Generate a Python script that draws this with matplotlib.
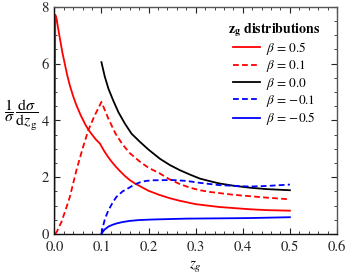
import matplotlib
matplotlib.use("Agg")
import matplotlib.pyplot as plt
from matplotlib.ticker import MultipleLocator

plt.rcParams['font.family'] = ['STIXGeneral', 'DejaVu Serif']
plt.rcParams['mathtext.fontset'] = 'stix'

# beta = 0.5 (red solid)
x_b05 = [0.0, 0.002, 0.005, 0.008, 0.012, 0.017, 0.023, 0.028, 0.033, 0.04, 0.047, 0.056, 0.065, 0.072, 0.08, 0.088, 0.097,
         0.102, 0.107, 0.113, 0.12, 0.13, 0.139, 0.15, 0.16, 0.17, 0.182, 0.2, 0.224, 0.245, 0.266, 0.3, 0.35, 0.415, 0.45, 0.5]
y_b05 = [0.5, 7.72, 7.57, 7.25, 6.87, 6.4, 5.93, 5.55, 5.23, 4.85, 4.53, 4.18, 3.88, 3.68, 3.5, 3.33, 3.18,
         3.03, 2.89, 2.74, 2.58, 2.38, 2.22, 2.04, 1.9, 1.79, 1.68, 1.52, 1.37, 1.26, 1.17, 1.05, 0.95, 0.87, 0.84, 0.82]

# beta = 0.1 (red dashed)
x_b01 = [0.002, 0.006, 0.01, 0.015, 0.019, 0.026, 0.033, 0.04, 0.047, 0.054, 0.061, 0.072, 0.085, 0.1,
         0.115, 0.13, 0.145, 0.16, 0.182, 0.2, 0.224, 0.245, 0.266, 0.288, 0.309, 0.33, 0.35, 0.38, 0.415, 0.45, 0.5]
y_b01 = [0.0, 0.1, 0.25, 0.42, 0.61, 0.95, 1.31, 1.78, 2.25, 2.66, 3.06, 3.65, 4.15, 4.65,
         4.05, 3.53, 3.15, 2.85, 2.54, 2.33, 2.13, 1.92, 1.76, 1.63, 1.54, 1.48, 1.44, 1.38, 1.33, 1.28, 1.22]

# beta = 0.0 (black)
x_b00 = [0.1, 0.107, 0.115, 0.125, 0.136, 0.15, 0.164, 0.182, 0.2, 0.224, 0.245, 0.266, 0.288, 0.309, 0.33, 0.35, 0.38, 0.415, 0.45, 0.5]
y_b00 = [6.05, 5.55, 5.11, 4.7, 4.29, 3.88, 3.53, 3.24, 2.97, 2.65, 2.43, 2.25, 2.09, 1.95, 1.86, 1.78, 1.7, 1.63, 1.58, 1.54]

# beta = -0.1 (blue dashed)
x_bm01 = [0.1, 0.103, 0.107, 0.111, 0.115, 0.123, 0.132, 0.145, 0.16, 0.17, 0.182, 0.195, 0.21, 0.25, 0.28, 0.309, 0.35, 0.415, 0.45, 0.5]
y_bm01 = [0.0, 0.25, 0.5, 0.68, 0.84, 1.08, 1.31, 1.5, 1.64, 1.74, 1.82, 1.87, 1.89, 1.9, 1.87, 1.8, 1.72, 1.67, 1.69, 1.74]

# beta = -0.5 (blue solid)
x_bm05 = [0.1, 0.103, 0.107, 0.115, 0.123, 0.132, 0.145, 0.16, 0.18, 0.21, 0.28, 0.35, 0.415, 0.5]
y_bm05 = [0.0, 0.08, 0.16, 0.26, 0.32, 0.37, 0.42, 0.46, 0.49, 0.51, 0.54, 0.55, 0.56, 0.59]

labels = [r'$\beta$ = 0.5', r'$\beta$ = 0.1', r'$\beta$ = 0.0', r'$\beta$ = $-$0.1', r'$\beta$ = $-$0.5']
xticks = [0.0, 0.1, 0.2, 0.3, 0.4, 0.5, 0.6]
yticks = [0, 2, 4, 6, 8]

fig = plt.figure(figsize=(3.46, 2.73), dpi=100)
ax = fig.add_axes([0.157, 0.143, 0.817, 0.832])

lw = 1.3
dash = (0, (3.2, 1.8))
ax.plot(x_b05, y_b05, color='#ff0000', lw=lw, label=labels[0])
ax.plot(x_b01, y_b01, color='#ff0000', lw=lw, ls=dash, label=labels[1])
ax.plot(x_b00, y_b00, color='black', lw=lw, label=labels[2])
ax.plot(x_bm01, y_bm01, color='#0000ff', lw=lw, ls=dash, label=labels[3])
ax.plot(x_bm05, y_bm05, color='#0000ff', lw=lw, label=labels[4])

ax.set_xlim(0, 0.6)
ax.set_ylim(0, 8)
ax.set_xticks(xticks)
ax.set_xticklabels(['%.1f' % t for t in xticks])
ax.set_yticks(yticks)
ax.set_yticklabels([str(t) for t in yticks])
ax.xaxis.set_minor_locator(MultipleLocator(0.02))
ax.yaxis.set_minor_locator(MultipleLocator(0.5))
ax.tick_params(which='both', direction='in', top=True, right=True, labelsize=10.5, colors='#222222')
ax.tick_params(axis='x', pad=4.5)
ax.tick_params(axis='y', pad=4)
ax.tick_params(which='major', length=4, width=0.8)
ax.tick_params(which='minor', length=2, width=0.6)
for s in ['left', 'bottom']:
    ax.spines[s].set_color('#111111')
    ax.spines[s].set_linewidth(1.0)
for s in ['top', 'right']:
    ax.spines[s].set_color('#555555')
    ax.spines[s].set_linewidth(1.0)

ax.set_xlabel(r'$z_g$', fontsize=11, labelpad=4)
ax.set_ylabel(r'$\dfrac{1}{\sigma}\,\dfrac{\mathrm{d}\sigma}{\mathrm{d}z_{\mathrm{g}}}$', fontsize=11.5,
              rotation=0, ha='left', va='center', rotation_mode='anchor')
ax.yaxis.set_label_coords(-0.178, 0.525)

leg = ax.legend(loc='upper right', bbox_to_anchor=(0.985, 0.99), frameon=False, fontsize=9.5,
                handlelength=2.0, handletextpad=0.5, labelspacing=0.1,
                title=r'$\mathbf{z}_{\mathbf{g}}$ distributions',
                title_fontproperties={'weight': 'bold', 'size': 10})

fig.savefig('out.png', dpi=100)
